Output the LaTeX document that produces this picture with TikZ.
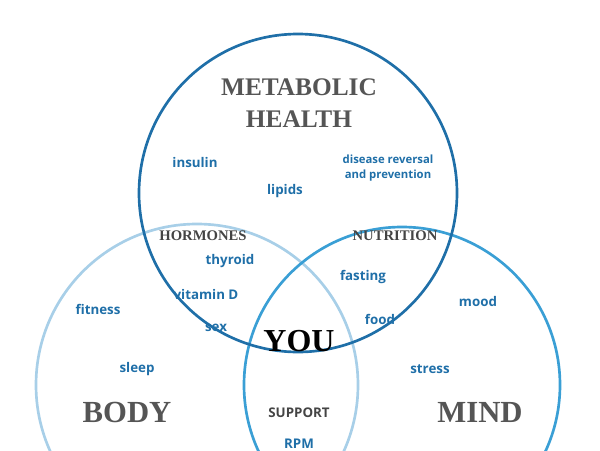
\documentclass[tikz,border=0pt]{standalone}
\usepackage{fontspec}
\setmainfont{Liberation Serif}
\newfontfamily\labelfont{Open Sans}
\definecolor{deepblue}{HTML}{1F6FA8}
\definecolor{midblue}{HTML}{3A9FD5}
\definecolor{paleblue}{HTML}{A8CFE8}
\definecolor{titlegray}{HTML}{555555}
\tikzset{
  ring/.style={line width=2pt},
  topic/.style={text=deepblue, font=\labelfont\bfseries\fontsize{10}{12}\selectfont, align=center},
  title/.style={text=titlegray, font=\bfseries\fontsize{19}{23}\selectfont, align=center},
  subtitle/.style={text=titlegray!80!black, font=\bfseries\fontsize{11}{13}\selectfont},
}
\begin{document}
\begin{tikzpicture}[x=0.75pt,y=-0.75pt]
\useasboundingbox (0,0) rectangle (600,450);
% circles
\coordinate (cm) at (298,193);
\coordinate (cb) at (197,385);
\coordinate (cr) at (402,385);
\draw[ring, paleblue] (cb) circle (161);
\draw[ring, midblue] (cr) circle (158);
\draw[ring, deepblue] (cm) circle (159);
% titles
\node[title] (metab) at (299,103) {METABOLIC\\[1pt]HEALTH};
\node[title, font=\bfseries\fontsize{23}{28}\selectfont] (body) at (127,412) {BODY};
\node[title, font=\bfseries\fontsize{23}{28}\selectfont] (mind) at (480,412) {MIND};
\node[font=\bfseries\fontsize{24}{28}\selectfont] (you) at (299,341) {YOU};
\node[subtitle] (horm) at (203,236) {HORMONES};
\node[subtitle] (nutr) at (395,236) {NUTRITION};
\node[subtitle, font=\labelfont\bfseries\fontsize{10}{12}\selectfont] (supp) at (299,413) {SUPPORT};
% topics
\node[topic] (insulin) at (195,162) {insulin};
\node[topic] (lipids) at (285,191) {lipids};
\node[topic, font=\labelfont\bfseries\fontsize{8.5}{11}\selectfont] (disease) at (388,168) {disease reversal\\and prevention};
\node[topic] (thyroid) at (230,261) {thyroid};
\node[topic] (vitd) at (206,294) {vitamin D};
\node[topic] (sex) at (216,328) {sex};
\node[topic] (fasting) at (363,277) {fasting};
\node[topic] (food) at (380,319) {food};
\node[topic] (fitness) at (98,309) {fitness};
\node[topic] (sleep) at (137,369) {sleep};
\node[topic] (mood) at (478,301) {mood};
\node[topic] (stress) at (430,369) {stress};
\node[topic] (rpm) at (299,444) {RPM};
\end{tikzpicture}
\end{document}
